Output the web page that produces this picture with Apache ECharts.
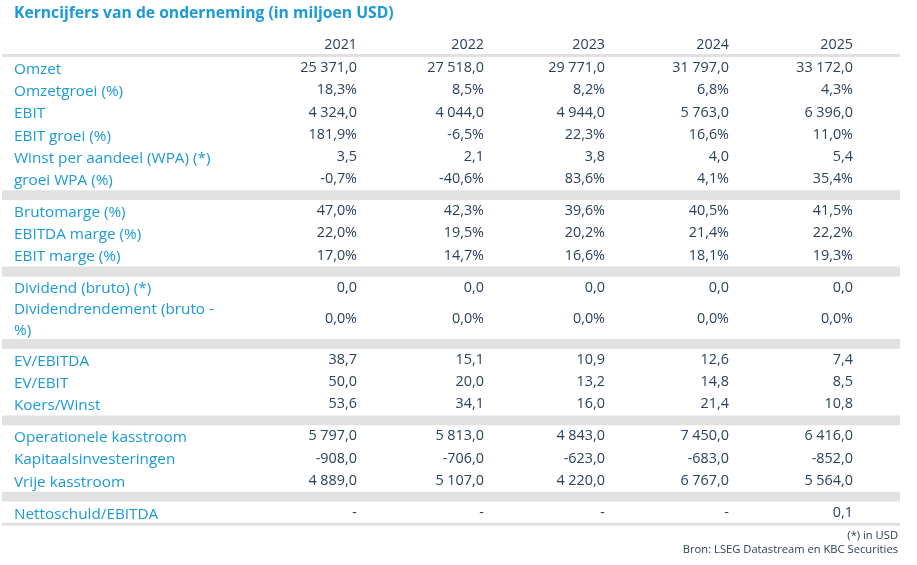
<!DOCTYPE html>
<html>
<head>
<meta charset="utf-8">
<script src="https://cdn.jsdelivr.net/npm/echarts@6/dist/echarts.min.js"></script>
<style>
  html, body { margin: 0; padding: 0; background: #fff; }
  #chart { width: 917px; height: 565px; }
</style>
</head>
<body>
<div id="chart"></div>
<script>
// tekst en waarden uit de tabel
const title = 'Kerncijfers van de onderneming (in miljoen USD)';
const years = ['2021', '2022', '2023', '2024', '2025'];
const footnotes = ['(*) in USD', 'Bron: LSEG Datastream en KBC Securities'];

const omzet = [25371.0, 27518.0, 29771.0, 31797.0, 33172.0];
const omzetgroei = [18.3, 8.5, 8.2, 6.8, 4.3];
const ebit = [4324.0, 4044.0, 4944.0, 5763.0, 6396.0];
const ebitGroei = [181.9, -6.5, 22.3, 16.6, 11.0];
const wpa = [3.5, 2.1, 3.8, 4.0, 5.4];
const groeiWpa = [-0.7, -40.6, 83.6, 4.1, 35.4];
const brutomarge = [47.0, 42.3, 39.6, 40.5, 41.5];
const ebitdaMarge = [22.0, 19.5, 20.2, 21.4, 22.2];
const ebitMarge = [17.0, 14.7, 16.6, 18.1, 19.3];
const dividend = [0.0, 0.0, 0.0, 0.0, 0.0];
const dividendrendement = [0.0, 0.0, 0.0, 0.0, 0.0];
const evEbitda = [38.7, 15.1, 10.9, 12.6, 7.4];
const evEbit = [50.0, 20.0, 13.2, 14.8, 8.5];
const koersWinst = [53.6, 34.1, 16.0, 21.4, 10.8];
const operKasstroom = [5797.0, 5813.0, 4843.0, 7450.0, 6416.0];
const kapitaalInv = [-908.0, -706.0, -623.0, -683.0, -852.0];
const vrijeKasstroom = [4889.0, 5107.0, 4220.0, 6767.0, 5564.0];
const nettoschuldEbitda = [null, null, null, null, 0.1];

// blokken van rijen, gescheiden door grijze balk
const groups = [
  [['Omzet', omzet, 'num'], ['Omzetgroei (%)', omzetgroei, 'pct'], ['EBIT', ebit, 'num'],
   ['EBIT groei (%)', ebitGroei, 'pct'], ['Winst per aandeel (WPA) (*)', wpa, 'num'],
   ['groei WPA (%)', groeiWpa, 'pct']],
  [['Brutomarge (%)', brutomarge, 'pct'], ['EBITDA marge (%)', ebitdaMarge, 'pct'],
   ['EBIT marge (%)', ebitMarge, 'pct']],
  [['Dividend (bruto) (*)', dividend, 'num'], ['Dividendrendement (bruto -\n%)', dividendrendement, 'pct']],
  [['EV/EBITDA', evEbitda, 'num'], ['EV/EBIT', evEbit, 'num'], ['Koers/Winst', koersWinst, 'num']],
  [['Operationele kasstroom', operKasstroom, 'num'], ['Kapitaalsinvesteringen', kapitaalInv, 'num'],
   ['Vrije kasstroom', vrijeKasstroom, 'num']],
  [['Nettoschuld/EBITDA', nettoschuldEbitda, 'num']]
];

function fmt(v, kind) {
  if (v === null) return '-';
  const s = Math.abs(v).toFixed(1).split('.');
  const int = s[0].replace(/\B(?=(\d{3})+(?!\d))/g, ' ');
  return (v < 0 ? '-' : '') + int + ',' + s[1] + (kind === 'pct' ? '%' : '');
}

// opmaak
const BLUE = '#1b9ad8';
const NAVY = '#2b3f5e';
const GREY = '#e1e1e1';
const FONT = '"Open Sans", "Noto Sans", sans-serif';
const COL_RIGHT = [357, 484, 605, 729, 853];
const LABEL_X = 14, LEFT = 2, RIGHT = 900;
const ROW_H = 22.2, BAND_H = 9.8;

const cells = [];
const rects = [];

cells.push({ x: LABEL_X, y: 14, text: title, align: 'left', color: BLUE, font: 'bold 15.7px ' + FONT });
years.forEach((yr, i) => cells.push({ x: COL_RIGHT[i], y: 45, text: yr, align: 'right', color: NAVY, font: '14.3px ' + FONT }));
rects.push([LEFT, 54, RIGHT, 57]);

let y = 57;
groups.forEach((g, gi) => {
  if (gi > 0) {
    rects.push([LEFT, y, RIGHT, y + BAND_H]);
    y += BAND_H;
  }
  g.forEach(([label, vals, kind]) => {
    const h = label.indexOf('\n') >= 0 ? 40.4 : ROW_H;
    const cy = y + h / 2;
    cells.push({ x: LABEL_X, y: cy + 1.5, text: label, align: 'left', color: BLUE, font: '15.3px ' + FONT, lh: 20.5 });
    vals.forEach((v, i) => cells.push({ x: COL_RIGHT[i], y: cy, text: fmt(v, kind), align: 'right', color: NAVY, font: '14.4px ' + FONT }));
    y += h;
  });
});
rects.push([LEFT, y - 1, RIGHT, y + 2]);

footnotes.forEach((t, i) => cells.push({ x: 898, y: 536 + i * 13.5, text: t, align: 'right', color: NAVY, font: '11.2px ' + FONT }));

const chart = echarts.init(document.getElementById('chart'));
chart.setOption({
  animation: false,
  grid: { left: 0, right: 0, top: 0, bottom: 0 },
  xAxis: { type: 'value', min: 0, max: 917, show: false },
  yAxis: { type: 'value', min: 0, max: 565, inverse: true, show: false },
  series: [
    {
      type: 'custom',
      clip: false,
      data: rects,
      renderItem: function (params, api) {
        const p0 = api.coord([api.value(0), api.value(1)]);
        const p1 = api.coord([api.value(2), api.value(3)]);
        return {
          type: 'rect',
          shape: { x: p0[0], y: p0[1], width: p1[0] - p0[0], height: p1[1] - p0[1] },
          style: { fill: GREY }
        };
      }
    },
    {
      type: 'custom',
      clip: false,
      data: cells.map(c => [c.x, c.y]),
      renderItem: function (params, api) {
        const c = cells[params.dataIndex];
        const p = api.coord([api.value(0), api.value(1)]);
        return {
          type: 'text',
          x: p[0],
          y: p[1],
          style: {
            text: c.text,
            fill: c.color,
            font: c.font,
            align: c.align,
            verticalAlign: 'middle',
            lineHeight: c.lh || 16
          }
        };
      }
    }
  ]
});
window.addEventListener('resize', () => chart.resize());
</script>
</body>
</html>
